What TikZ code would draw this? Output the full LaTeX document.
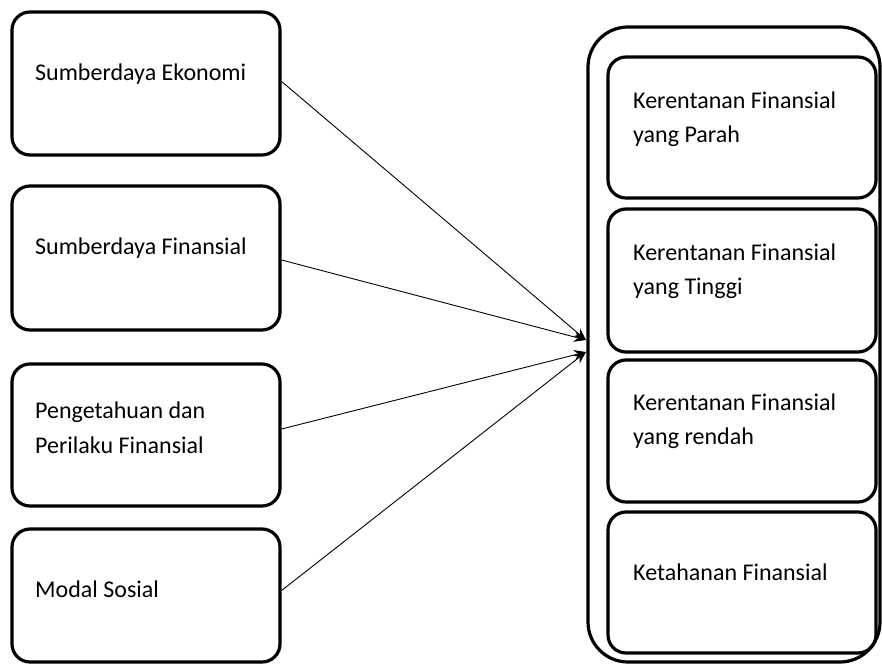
\documentclass[tikz,border=0pt]{standalone}
\usepackage{fontspec}
\setmainfont{Carlito}
\usetikzlibrary{arrows.meta}
\begin{document}
\begin{tikzpicture}[x=1pt,y=1pt,
  box/.style={draw=black,line width=3.2pt,rounded corners=18pt,minimum width=268pt,inner sep=0pt},
  outerbox/.style={draw=black,line width=3.2pt,rounded corners=40pt,minimum width=292pt,minimum height=635pt,inner sep=0pt},
  lbl/.style={anchor=base west,align=left,inner sep=0pt,font=\fontsize{24pt}{34.5pt}\selectfont},
  conn/.style={line width=0.9pt,-{Stealth[length=12pt,width=10pt]}}]
\useasboundingbox (0,0) rectangle (882,664);
\fill[white] (0,0) rectangle (882,664);
% left boxes
\node[box,minimum height=143pt] (l1) at (146,580.5) {};
\node[box,minimum height=144pt] (l2) at (146,406) {};
\node[box,minimum height=142pt] (l3) at (146,229) {};
\node[box,minimum height=133pt] (l4) at (146,68.5) {};
\node[lbl] (t1) at (35,583) {Sumberdaya Ekonomi};
\node[lbl] (t2) at (35,409) {Sumberdaya Finansial};
\node[lbl] (t3) at (35,211) {Pengetahuan dan\\Perilaku Finansial};
\node[lbl] (t4) at (35,67) {Modal Sosial};
% right container
\node[outerbox] (out) at (734,319.5) {};
\node[box,minimum height=141pt] (r1) at (742,536.5) {};
\node[box,minimum height=143pt] (r2) at (742,383.5) {};
\node[box,minimum height=142pt] (r3) at (742,233) {};
\node[box,minimum height=141pt] (r4) at (742,81.5) {};
\node[lbl] (s1) at (633,521) {Kerentanan Finansial\\yang Parah};
\node[lbl] (s2) at (633,369) {Kerentanan Finansial\\yang Tinggi};
\node[lbl] (s3) at (633,219) {Kerentanan Finansial\\yang rendah};
\node[lbl] (s4) at (633,84) {Ketahanan Finansial};
% connectors
\coordinate (tipa) at (586,324);
\coordinate (tipb) at (586,312);
\draw[conn] (l1.east) ++(0,2) -- (tipa);
\draw[conn] (l2.east) ++(0,-2) -- (tipa);
\draw[conn] (l3.east) ++(0,6) -- (tipb);
\draw[conn] (l4.east) ++(0,5) -- (tipb);
\end{tikzpicture}
\end{document}
